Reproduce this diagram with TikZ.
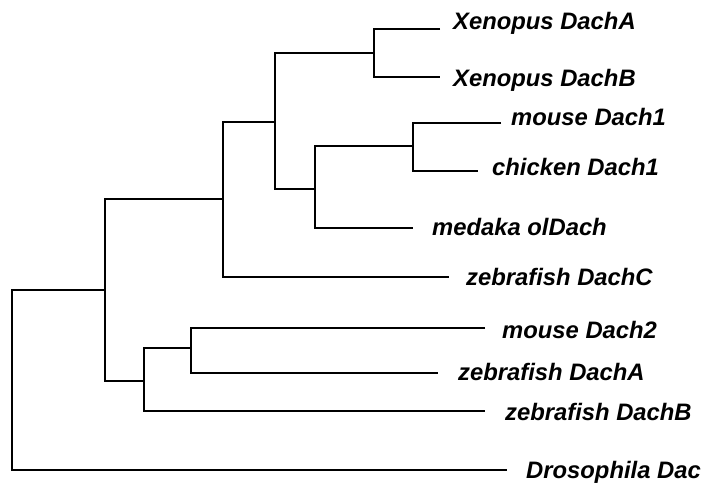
\documentclass[tikz,border=0pt]{standalone}
\usepackage{fontspec}
\setmainfont{Liberation Sans}
\usetikzlibrary{positioning}

\begin{document}
\begin{tikzpicture}[
    x=1pt, y=-1pt,
    branch/.style={draw, line width=1.6pt},
    taxon/.style={anchor=base west, inner sep=0pt, font=\fontsize{23.8}{26}\selectfont\bfseries\itshape}
]
    \useasboundingbox (0,0) rectangle (703,484);

    % leaf ends
    \coordinate (lXA) at (440,29);
    \coordinate (lXB) at (440,77);
    \coordinate (lM1) at (501,123);
    \coordinate (lC1) at (478,171);
    \coordinate (lMe) at (413,228);
    \coordinate (lZC) at (449,277);
    \coordinate (lM2) at (485,328);
    \coordinate (lZA) at (438,373);
    \coordinate (lZB) at (485,411);
    \coordinate (lDr) at (507,470);

    % internal nodes
    \coordinate (nX)  at (374,53);
    \coordinate (nD1) at (413,146);
    \coordinate (nMe) at (315,189);
    \coordinate (nA)  at (275,122);
    \coordinate (nB)  at (223,199);
    \coordinate (nM2) at (191,348);
    \coordinate (nC)  at (144,381);
    \coordinate (nV)  at (105,290);
    \coordinate (root) at (12,380);

    \node[taxon] (xa) at (453,30) {Xenopus DachA};
    \node[taxon] (xb) at (453,87) {Xenopus DachB};
    \node[taxon] (m1) at (511,125) {mouse Dach1};
    \node[taxon] (c1) at (492,175) {chicken Dach1};
    \node[taxon] (me) at (432,235) {medaka olDach};
    \node[taxon] (zc) at (466,285) {zebrafish DachC};
    \node[taxon] (m2) at (502,338) {mouse Dach2};
    \node[taxon] (za) at (458,380) {zebrafish DachA};
    \node[taxon] (zb) at (505,420) {zebrafish DachB};
    \node[taxon] (dr) at (526,478) {Drosophila Dac};

    \draw[branch] (lXA) -| (nX) |- (lXB);
    \draw[branch] (lM1) -| (nD1) |- (lC1);
    \draw[branch] (nD1) -| (nMe) |- (lMe);
    \draw[branch] (nX) -| (nA) |- (nMe);
    \draw[branch] (nA) -| (nB) |- (lZC);
    \draw[branch] (lM2) -| (nM2) |- (lZA);
    \draw[branch] (nM2) -| (nC) |- (lZB);
    \draw[branch] (nB) -| (nV) |- (nC);
    \draw[branch] (nV) -| (root) |- (lDr);
\end{tikzpicture}
\end{document}
